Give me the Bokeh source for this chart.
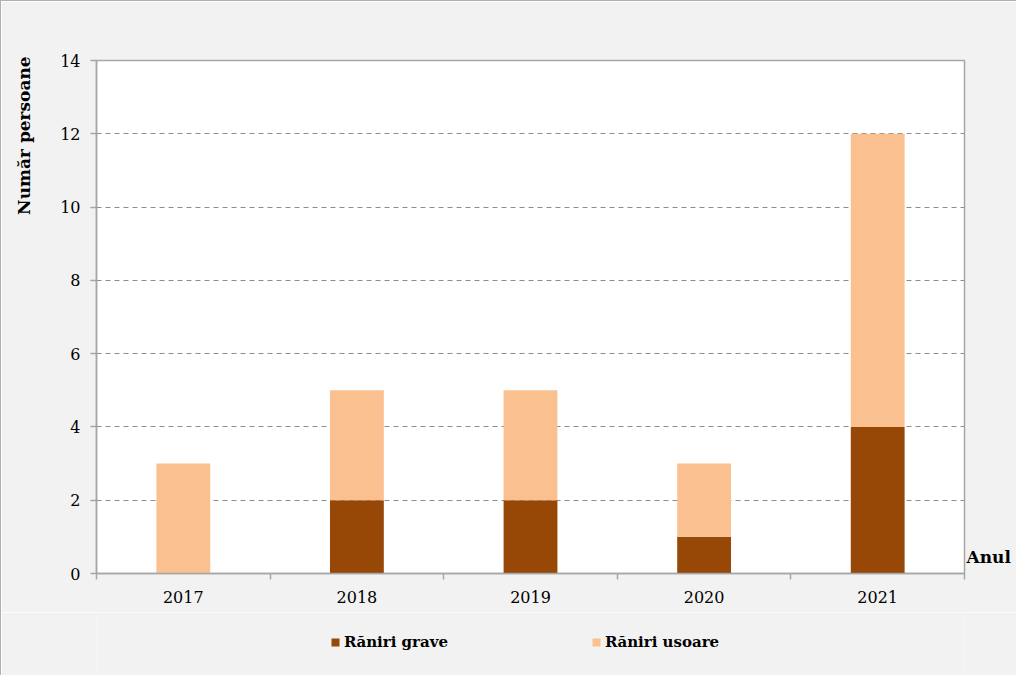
from bokeh.plotting import figure
from bokeh.models import (ColumnDataSource, FixedTicker, Legend, LegendItem,
                          Range1d, LinearAxis)
from bokeh.layouts import column
from bokeh.embed import file_html
from bokeh.resources import INLINE

years = ["2017", "2018", "2019", "2020", "2021"]
grave = [0, 2, 2, 1, 4]
usoare = [3, 3, 3, 2, 8]
y_ticks = [0, 2, 4, 6, 8, 10, 12, 14]
series_names = ["Răniri grave", "Răniri usoare"]

FONT = "DejaVu Serif"
DARK = "#974706"
LIGHT = "#FAC090"
BG = "#F2F2F2"
AX = "#A6A6A6"
BORDER = "1.5px solid #B0B0B0"

xs = list(range(1, len(years) + 1))
tops_u = [g + u for g, u in zip(grave, usoare)]
src = ColumnDataSource(dict(x=xs, grave=grave, top_u=tops_u, bottom_u=grave))

p = figure(width=1016, height=612, output_backend="svg", toolbar_location=None,
           x_range=Range1d(0.5, len(years) + 0.5), y_range=Range1d(0, 14),
           min_border_left=95, min_border_right=53, min_border_top=59, min_border_bottom=40)
p.background_fill_color = "white"
p.border_fill_color = BG
p.outline_line_color = AX
p.outline_line_width = 1.5
p.styles = {"border-top": BORDER, "border-left": BORDER, "box-sizing": "border-box"}

p.vbar(x="x", top="grave", bottom=0, width=0.31, source=src,
       fill_color=DARK, line_color=None)
p.vbar(x="x", top="top_u", bottom="bottom_u", width=0.31, source=src,
       fill_color=LIGHT, line_color=None)

# x axis: labels at centres, ticks at category boundaries
xa = p.xaxis[0]
xa.ticker = FixedTicker(ticks=xs, minor_ticks=[i + 0.5 for i in range(0, len(years) + 1)])
xa.major_label_overrides = {i: y for i, y in zip(xs, years)}
xa.major_tick_out = 0
xa.major_tick_in = 0
xa.minor_tick_out = 6
xa.minor_tick_in = 0
xa.minor_tick_line_color = AX
xa.minor_tick_line_width = 1.5
xa.axis_line_color = AX
xa.axis_line_width = 1.5
xa.major_label_text_font = FONT
xa.major_label_text_font_size = "16px"
xa.major_label_text_color = "black"
xa.major_label_standoff = 11

ya = p.yaxis[0]
ya.ticker = FixedTicker(ticks=y_ticks)
ya.major_tick_out = 6
ya.major_tick_in = 0
ya.minor_tick_line_color = None
ya.major_tick_line_color = AX
ya.major_tick_line_width = 1.5
ya.axis_line_color = AX
ya.axis_line_width = 1.5
ya.major_label_text_font = FONT
ya.major_label_text_font_size = "16px"
ya.major_label_text_color = "black"
ya.major_label_standoff = 10

p.xgrid.grid_line_color = None
p.ygrid.ticker = FixedTicker(ticks=y_ticks[1:-1])
p.ygrid.grid_line_color = "#8C8C8C"
p.ygrid.grid_line_dash = "5 4"
p.ygrid.grid_line_width = 1.2

def text_axis(pos, text, side, range_name, standoff, size, orient="horizontal"):
    ax = LinearAxis(y_range_name=range_name, ticker=FixedTicker(ticks=[pos]),
                    major_label_overrides={pos: text})
    ax.axis_line_color = None
    ax.major_tick_line_color = None
    ax.minor_tick_line_color = None
    ax.major_tick_out = 0
    ax.major_tick_in = 0
    ax.major_label_standoff = standoff
    ax.major_label_orientation = orient
    ax.major_label_text_font = FONT
    ax.major_label_text_font_style = "bold"
    ax.major_label_text_font_size = size
    ax.major_label_text_color = "black"
    p.add_layout(ax, side)

p.extra_y_ranges = {"txt": Range1d(0, 14)}
# y-axis title near the top of the axis, and "Anul" just above the x axis
text_axis(11.95, "Număr persoane", "left", "txt", 23, "17px", "vertical")
text_axis(0.45, "Anul", "right", "txt", 2, "17px")

# legend strip below the chart (its renderers use the same data, out of view)
pl = figure(width=1016, height=63, output_backend="svg", toolbar_location=None,
            x_range=Range1d(100, 101), y_range=Range1d(100, 101), x_axis_type=None,
            y_axis_type=None, min_border=0)
pl.background_fill_color = BG
pl.border_fill_color = BG
pl.outline_line_color = None
pl.styles = {"border-left": BORDER, "box-sizing": "border-box"}
g1 = pl.vbar(x="x", top="grave", bottom=0, width=0.31, source=src,
             fill_color=DARK, line_color=None)
g2 = pl.vbar(x="x", top="top_u", bottom="bottom_u", width=0.31, source=src,
             fill_color=LIGHT, line_color=None)

legend = Legend(items=[LegendItem(label=series_names[0], renderers=[g1]),
                       LegendItem(label=series_names[1], renderers=[g2])],
                orientation="horizontal", location=(234, 24), spacing=0,
                glyph_width=10, glyph_height=10, label_standoff=4, label_width=247,
                label_text_font=FONT, label_text_font_style="bold",
                label_text_font_size="15px", label_text_color="black",
                background_fill_alpha=0, border_line_color=None, margin=0, padding=0)
pl.add_layout(legend, "center")

layout = column(p, pl, spacing=0)
open("out.html", "w").write(file_html(layout, INLINE))
